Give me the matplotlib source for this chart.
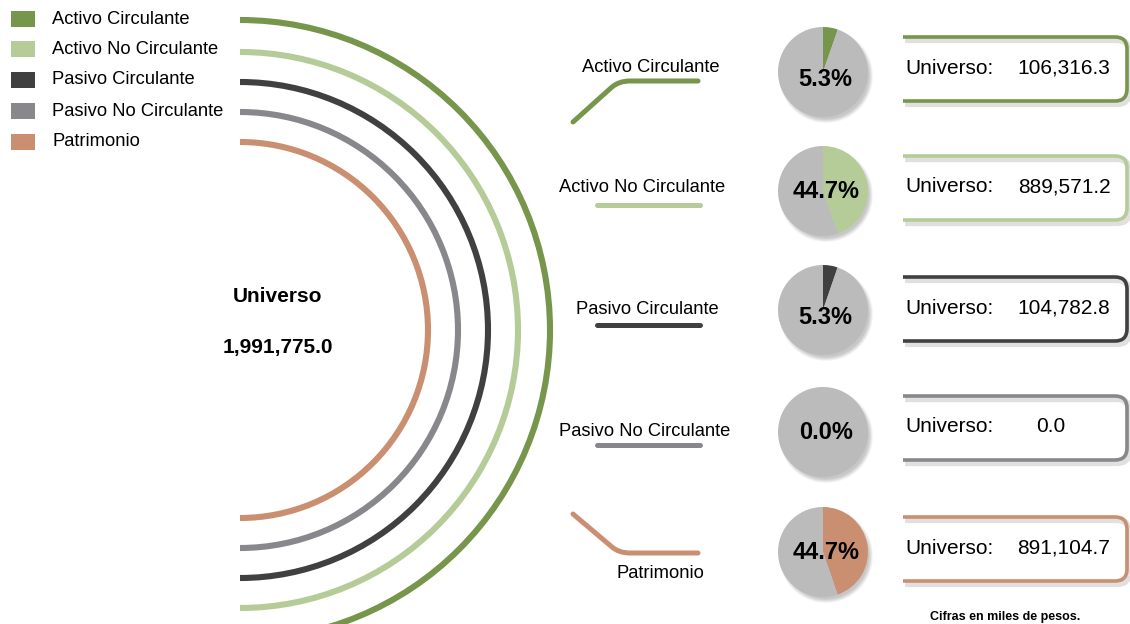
import numpy as np
import matplotlib.pyplot as plt
from matplotlib.patches import Arc, Rectangle, Circle, PathPatch
from matplotlib.path import Path
from matplotlib.transforms import Affine2D

plt.rcParams['font.family'] = ['Liberation Sans', 'DejaVu Sans']

categories = ['Activo Circulante', 'Activo No Circulante', 'Pasivo Circulante',
              'Pasivo No Circulante', 'Patrimonio']
values = [106316.3, 889571.2, 104782.8, 0.0, 891104.7]
universo_total = 1991775.0
colors = ['#77964b', '#b5cc99', '#404040', '#88888c', '#c98f70']
pie_bg = '#bbbbbb'

W, H = 1130, 624
fig = plt.figure(figsize=(W / 100, H / 100), dpi=100)
ax = fig.add_axes([0, 0, 1, 1])
ax.set_xlim(0, W)
ax.set_ylim(H, 0)
ax.axis('off')

# legend at top left
leg_y = [19, 49, 80, 111, 142]
for i, (name, c) in enumerate(zip(categories, colors)):
    ax.add_patch(Rectangle((11, leg_y[i] - 8), 24, 16, color=c, lw=0))
    ax.text(52 if i < 4 else 53, leg_y[i], name, fontsize=13.2, va='center', ha='left')

# concentric half circles
radii = [310, 278, 248, 218, 188]
for r, c in zip(radii, colors):
    ax.add_patch(Arc((240, 330), 2 * r, 2 * r, theta1=-90, theta2=90, color=c, lw=4.4))

ax.text(278, 296, 'Universo', fontsize=15, fontweight='bold', ha='center', va='center')
ax.text(278, 347, f'{universo_total:,.1f}', fontsize=15, fontweight='bold',
        ha='center', va='center')

# connector lines + labels
row_y = [69, 188, 309, 428, 549]
label_pos = [(651, 67), (642, 187), (647, 310), (645, 431), (660, 574)]
M, L, C3 = Path.MOVETO, Path.LINETO, Path.CURVE3
conn_paths = [
    Path([(573, 122), (612, 87), (619, 81), (630, 81), (698, 81)], [M, L, C3, C3, L]),
    Path([(597, 205), (700, 205)], [M, L]),
    Path([(597, 325), (700, 325)], [M, L]),
    Path([(597, 445), (700, 445)], [M, L]),
    Path([(573, 514), (612, 547), (619, 553), (630, 553), (698, 553)], [M, L, C3, C3, L]),
]
for i, (p, c) in enumerate(zip(conn_paths, colors)):
    ax.add_patch(PathPatch(p, fill=False, edgecolor=c, lw=3.6, capstyle='round',
                           joinstyle='round'))
    ax.text(label_pos[i][0], label_pos[i][1], categories[i], fontsize=13.2,
            ha='center', va='center')


def bracket(y0, y1, x0=903, x1=1127, rad=12):
    verts = [(x0, y0), (x1 - rad, y0), (x1, y0), (x1, y0 + rad), (x1, y1 - rad),
             (x1, y1), (x1 - rad, y1), (x0, y1)]
    codes = [M, L, C3, C3, L, C3, C3, L]
    return Path(verts, codes)


pie_cy = [72, 191, 310, 432, 552]
pie_cx, pie_r = 823, 45
for i, (v, c) in enumerate(zip(values, colors)):
    cy = pie_cy[i]
    # soft shadow behind pie
    for k, a in enumerate([0.04, 0.05, 0.05, 0.05, 0.04]):
        ax.add_patch(Circle((pie_cx + 3, cy + 4), pie_r + 2 - k, color='k', alpha=a, lw=0))
    axp = fig.add_axes([(pie_cx - pie_r) / W, 1 - (cy + pie_r) / H,
                        2 * pie_r / W, 2 * pie_r / H])
    axp.pie([v, universo_total - v], colors=[c, pie_bg], startangle=90,
            counterclock=False, radius=1, wedgeprops=dict(lw=0))
    axp.set_xlim(-1, 1)
    axp.set_ylim(-1, 1)
    share = v / universo_total
    pct = f'{share * 100:.1f}%'
    ty = -0.17 if 0 < share < 0.2 else -0.02
    axp.text(0.06, ty, pct, fontsize=17, fontweight='bold', ha='center', va='center')

    # bracket box with shadow
    y0, y1 = row_y[i] - 32, row_y[i] + 32
    shadow = bracket(y0 + 3, y1 + 3).transformed(Affine2D().translate(2, 0))
    ax.add_patch(PathPatch(shadow, fill=False, edgecolor='#999999', lw=4.5,
                           alpha=0.3, capstyle='butt'))
    ax.add_patch(PathPatch(bracket(y0, y1), fill=False, edgecolor=c, lw=2.6,
                           capstyle='butt'))
    ax.text(905, row_y[i] - 1, 'Universo:', fontsize=15, ha='left', va='center')
    num_x = 1064 if v > 0 else 1051
    ax.text(num_x, row_y[i] - 1, f'{v:,.1f}', fontsize=15, ha='center', va='center')

ax.text(1005, 617, 'Cifras en miles de pesos.', fontsize=9, fontweight='bold',
        ha='center', va='center')

plt.savefig('out.png', dpi=100)
